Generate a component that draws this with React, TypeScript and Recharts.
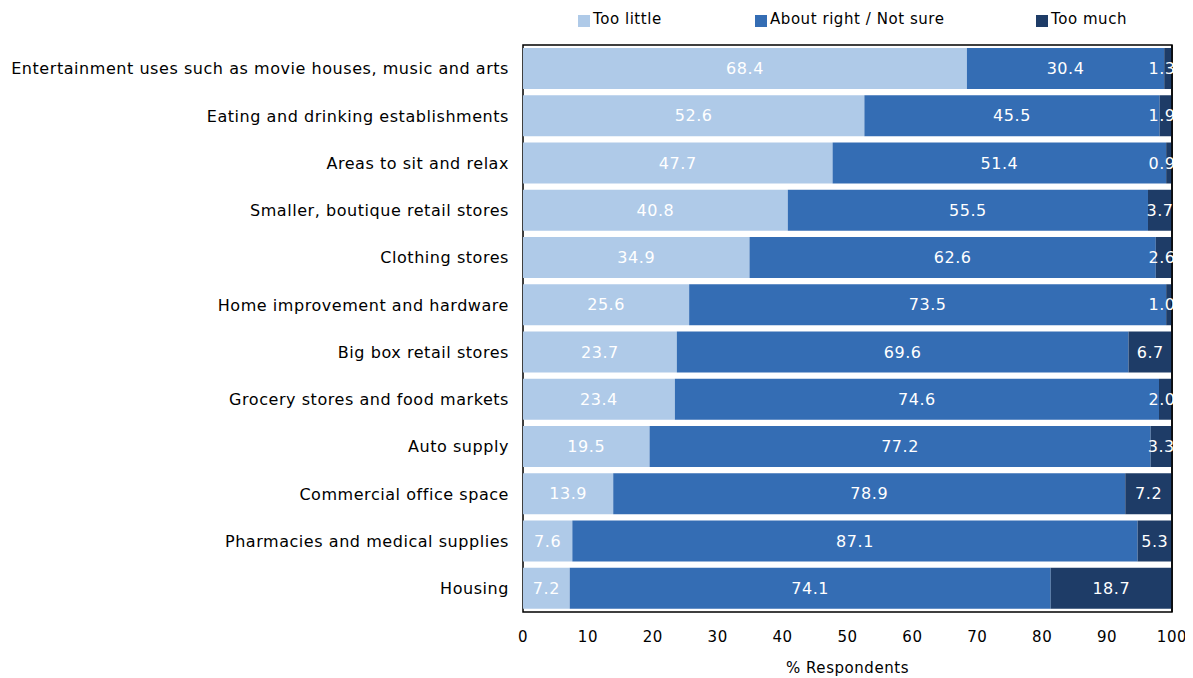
import React from 'react';
import { BarChart, Bar, XAxis, YAxis, LabelList, ReferenceArea, ReferenceLine } from 'recharts';

const categories = [
  'Entertainment uses such as movie houses, music and arts',
  'Eating and drinking establishments',
  'Areas to sit and relax',
  'Smaller, boutique retail stores',
  'Clothing stores',
  'Home improvement and hardware',
  'Big box retail stores',
  'Grocery stores and food markets',
  'Auto supply',
  'Commercial office space',
  'Pharmacies and medical supplies',
  'Housing',
];
const tooLittle = [68.4, 52.6, 47.7, 40.8, 34.9, 25.6, 23.7, 23.4, 19.5, 13.9, 7.6, 7.2];
const aboutRight = [30.4, 45.5, 51.4, 55.5, 62.6, 73.5, 69.6, 74.6, 77.2, 78.9, 87.1, 74.1];
const tooMuch = [1.3, 1.9, 0.9, 3.7, 2.6, 1.0, 6.7, 2.0, 3.3, 7.2, 5.3, 18.7];
const xTicks = [0, 10, 20, 30, 40, 50, 60, 70, 80, 90, 100];

const series = [
  { key: 'tooLittle', name: 'Too little', color: '#AFCAE8' },
  { key: 'aboutRight', name: 'About right / Not sure', color: '#346DB4' },
  { key: 'tooMuch', name: 'Too much', color: '#1E3C67' },
];

const data = categories.map((name, i) => ({
  name,
  tooLittle: tooLittle[i],
  aboutRight: aboutRight[i],
  tooMuch: tooMuch[i],
}));

const FONT = '"DejaVu Sans", sans-serif';
const legendLeft = [578, 755, 1036];

const W = 1185;
const H = 670;
const M = { top: 37, right: 21, bottom: 0, left: 0 };
const Y_W = 515;
const PLOT_RIGHT = W - M.right;

// value label, centred in its segment but kept from running far past the frame
function ValueLabel(props: any) {
  const { x, y, width, height, value } = props;
  if (value == null) return null;
  const cx = Math.min(Number(x) + Number(width) / 2, PLOT_RIGHT - 10);
  return (
    <text
      x={cx}
      y={Number(y) + Number(height) / 2}
      fill="#fff"
      fontSize={16}
      fontFamily={FONT}
      textAnchor="middle"
      dominantBaseline="central"
    >
      {Number(value).toFixed(1)}
    </text>
  );
}

export default function App() {
  return (
    <div style={{ position: 'relative', width: W, height: H, fontFamily: FONT, letterSpacing: '0.55px' }}>
      {/* legend drawn as plain html over the top margin */}
      {series.map((s, i) => (
        <div
          key={s.key}
          style={{
            position: 'absolute',
            top: 2,
            left: legendLeft[i] - 8,
            display: 'flex',
            alignItems: 'center',
            fontSize: 15,
            color: '#000',
          }}
        >
          <span style={{ width: 12, height: 12, background: s.color, display: 'inline-block', marginRight: 3, marginTop: 3 }} />
          <span>{s.name}</span>
        </div>
      ))}

      <BarChart width={W} height={H} data={data} layout="vertical" margin={M} barCategoryGap={3}>
        <XAxis
          type="number"
          domain={[0, 100]}
          ticks={xTicks}
          allowDataOverflow
          tickLine={false}
          axisLine={false}
          tickSize={0}
          tickMargin={19}
          height={66}
          tick={{ fill: '#000', fontSize: 15, fontFamily: FONT }}
          label={{ value: '% Respondents', position: 'insideBottom', offset: 5, fill: '#000', fontSize: 15, fontFamily: FONT }}
        />
        <YAxis
          type="category"
          dataKey="name"
          width={Y_W}
          axisLine={false}
          tickLine={false}
          tickSize={0}
          tickMargin={14}
          interval={0}
          tick={{ fill: '#000', fontSize: 16, fontFamily: FONT }}
        />
        {/* frame sits behind the bars, only showing in the gaps on the left */}
        <ReferenceArea x1={0} x2={100} fill="none" stroke="#000" strokeWidth={1.5} />
        {series.map((s) => (
          <Bar key={s.key} dataKey={s.key} name={s.name} stackId="a" fill={s.color} isAnimationActive={false}>
            <LabelList dataKey={s.key} content={<ValueLabel />} />
          </Bar>
        ))}
        <ReferenceLine x={100} stroke="#000" strokeWidth={1.5} />
      </BarChart>
    </div>
  );
}
